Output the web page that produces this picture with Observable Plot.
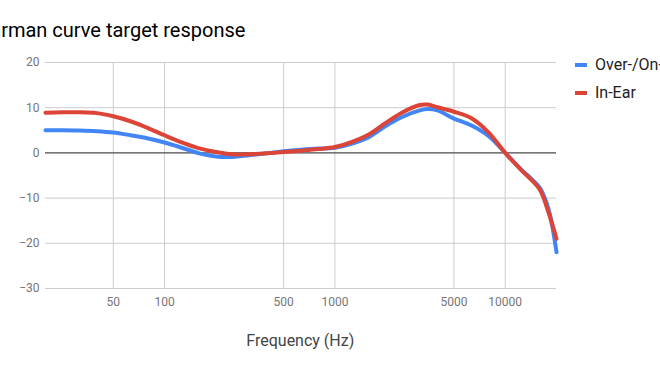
<!DOCTYPE html>
<html>
<head>
<meta charset="utf-8">
<script src="https://cdn.jsdelivr.net/npm/d3@7"></script>
<script src="https://cdn.jsdelivr.net/npm/@observablehq/plot@0.6"></script>
<style>
  html, body { margin: 0; padding: 0; background: #fff; }
  #wrap { position: relative; width: 660px; height: 371px; overflow: hidden; font-family: Roboto, sans-serif; }
  #title { position: absolute; left: -24px; top: 16px; font-size: 20px; color: #000; white-space: nowrap; line-height: 28px; }
  #xlabel { position: absolute; left: 0; width: 600.6px; top: 331px; text-align: center; font-size: 16px; color: #444; line-height: 20px; }
  .leg { position: absolute; left: 575px; font-size: 16px; color: #222; white-space: nowrap; height: 20px; line-height: 20px; }
  .leg span.sw { position: absolute; left: 0; top: 8px; width: 12px; height: 4px; }
  .leg span.tx { position: absolute; left: 20px; top: 0; }
  #plot { position: absolute; left: 0; top: 0; }
</style>
</head>
<body>
<div id="wrap">
  <div id="plot"></div>
  <div id="title"></div>
  <div id="xlabel"></div>
  <div id="legend"></div>
</div>
<script>
const titleText = "Harman curve target response";
const xLabel = "Frequency (Hz)";
const seriesNames = ["Over-/On-Ear", "In-Ear"];
const seriesColors = ["#4285F4", "#DB4437"];
const xTicks = [50, 100, 500, 1000, 5000, 10000];
const yTicks = [-30, -20, -10, 0, 10, 20];

const freq = [20, 25, 31.5, 40, 50, 63, 80, 100, 125, 160, 200, 250, 315, 400, 500, 630, 800, 1000, 1250, 1600, 2000, 2500, 3150, 3500, 4000, 5000, 6300, 8000, 10000, 12500, 14000, 16000, 18000, 20000];
const overEar = [5.0, 5.0, 4.95, 4.8, 4.5, 3.9, 3.2, 2.3, 1.2, -0.1, -0.8, -0.9, -0.5, -0.1, 0.35, 0.7, 0.95, 1.15, 2.0, 3.6, 6.0, 8.0, 9.4, 9.7, 9.4, 7.6, 6.1, 3.7, 0.0, -3.8, -5.5, -7.8, -12.6, -22.0];
const inEar   = [8.9, 9.0, 9.0, 8.8, 8.1, 7.0, 5.5, 3.9, 2.4, 1.0, 0.2, -0.3, -0.3, -0.1, 0.2, 0.5, 0.85, 1.3, 2.4, 4.2, 6.7, 9.0, 10.6, 10.7, 10.1, 9.1, 7.7, 4.5, 0.0, -3.9, -5.7, -8.2, -13.3, -19.0];

const rows = [];
freq.forEach((f, i) => {
  rows.push({f, v: overEar[i], s: seriesNames[0]});
});
freq.forEach((f, i) => {
  rows.push({f, v: inEar[i], s: seriesNames[1]});
});

const chart = Plot.plot({
  width: 660,
  height: 371,
  marginTop: 62,
  marginBottom: 83,
  marginLeft: 45,
  marginRight: 104,
  style: {fontFamily: "Roboto, sans-serif", fontSize: "12px", background: "transparent", overflow: "visible"},
  x: {type: "log", domain: [20, 20000], label: null, axis: null},
  y: {domain: [-30, 20], ticks: yTicks, label: null},
  color: {domain: seriesNames, range: seriesColors},
  marks: [
    Plot.gridX(xTicks, {stroke: "#cccccc", strokeOpacity: 1}),
    Plot.gridY(yTicks, {stroke: "#cccccc", strokeOpacity: 1}),
    Plot.ruleY([0], {stroke: "#333333", strokeWidth: 1}),
    Plot.text(xTicks, {x: d => d, text: d => String(d), frameAnchor: "bottom", dy: 13.5, lineAnchor: "middle", fill: "#757575", fontSize: 12}),
    Plot.axisY(yTicks, {tickSize: 0, tickPadding: 6, fill: "#757575", fontSize: 12, label: null}),
    Plot.line(rows, {x: "f", y: "v", z: "s", stroke: "s", strokeWidth: 4, curve: "catmull-rom"})
  ]
});
document.getElementById("plot").appendChild(chart);
document.getElementById("title").textContent = titleText;
document.getElementById("xlabel").textContent = xLabel;

const legend = document.getElementById("legend");
const legTops = [54.5, 83];
seriesNames.forEach((name, i) => {
  const d = document.createElement("div");
  d.className = "leg";
  d.style.top = legTops[i] + "px";
  const sw = document.createElement("span");
  sw.className = "sw";
  sw.style.background = seriesColors[i];
  const tx = document.createElement("span");
  tx.className = "tx";
  tx.textContent = name;
  d.appendChild(sw);
  d.appendChild(tx);
  legend.appendChild(d);
});
</script>
</body>
</html>
